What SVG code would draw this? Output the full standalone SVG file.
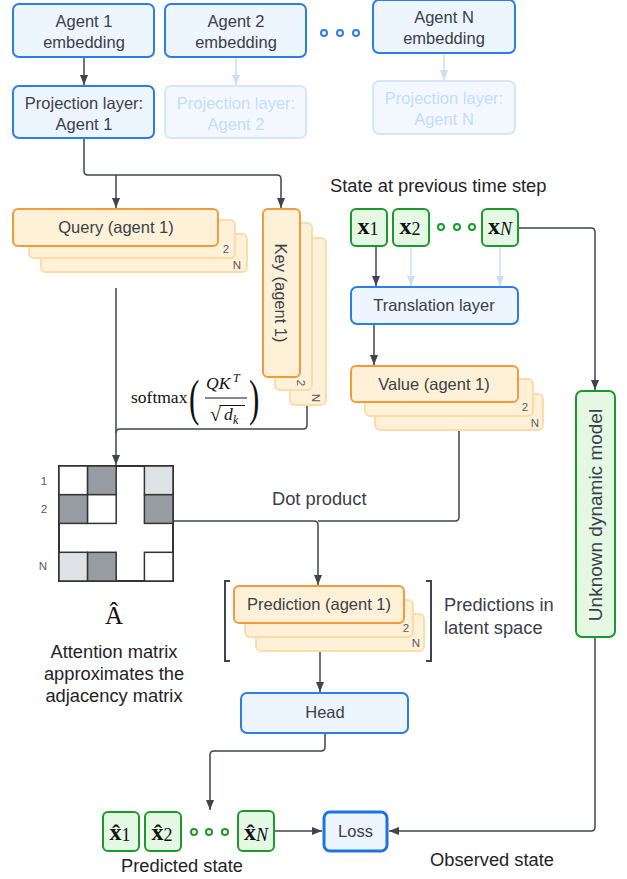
<svg xmlns="http://www.w3.org/2000/svg" width="627" height="879" viewBox="0 0 627 879">
<style>
text{font-family:"Liberation Sans",Arial,sans-serif;fill:#3a4049}
.t16{font-size:16.5px}
.lab{font-size:18.3px;fill:#1f2328}
.sm{font-size:11.5px;fill:#555b63}
.blue{fill:#edf5ff;stroke:#2b7de9;stroke-width:2}
.fade{fill:#f3f8ff;stroke:#d6e7fd;stroke-width:2}
.fadet{fill:#c6dcfa}
.org{fill:#fff1d8;stroke:#f59a3c;stroke-width:2}
.orgb{fill:#fff1d8;stroke:#fddcaa;stroke-width:2}
.grn{fill:#e4f8e4;stroke:#1a9a2a;stroke-width:2}
.con{fill:none;stroke:#3f454e;stroke-width:1.5}
.conf{fill:none;stroke:#c9defc;stroke-width:1.5}
.math{font-family:"Liberation Serif","Times New Roman",serif;fill:#111}
.dotb{fill:#fff;stroke:#2b7de9;stroke-width:2}
.dotg{fill:#fff;stroke:#1a9a2a;stroke-width:2}
.cell{stroke:#333;stroke-width:1.5}
</style>
<defs>
<marker id="ah" markerUnits="userSpaceOnUse" markerWidth="10" markerHeight="10" refX="10" refY="5" orient="auto"><path d="M0,1 L10,5 L0,9 z" fill="#3f454e"/></marker>
<marker id="ahf" markerUnits="userSpaceOnUse" markerWidth="10" markerHeight="10" refX="10" refY="5" orient="auto"><path d="M0,1 L10,5 L0,9 z" fill="#c9defc"/></marker>
</defs>

<g id="connectors">
<path class="con" d="M84 57 V85" marker-end="url(#ah)"/>
<path class="conf" d="M236 57 V85" marker-end="url(#ahf)"/>
<path class="conf" d="M444 53 V80" marker-end="url(#ahf)"/>
<path class="con" d="M84 138 V171 Q84 175 88 175 H277 Q281 175 281 179 V208" marker-end="url(#ah)"/>
<path class="con" d="M116 175 V208" marker-end="url(#ah)"/>
<path class="con" d="M116 288 V465" marker-end="url(#ah)"/>
<path class="con" d="M307 405 V425 Q307 429 303 429 H120 Q116 429 116 433"/>
<path class="con" d="M173 521 H314 Q318 521 318 525 V585" marker-end="url(#ah)"/>
<path class="con" d="M459 431 V517 Q459 521 455 521 H318"/>
<path class="con" d="M376 246 V286" marker-end="url(#ah)"/>
<path class="conf" d="M411 246 V286" marker-end="url(#ahf)"/>
<path class="conf" d="M500 246 V286" marker-end="url(#ahf)"/>
<path class="con" d="M374 324 V365" marker-end="url(#ah)"/>
<path class="con" d="M518 228 H591 Q595 228 595 232 V390" marker-end="url(#ah)"/>
<path class="con" d="M595 637 V827 Q595 831 591 831 H389" marker-end="url(#ah)"/>
<path class="con" d="M320 651 V692" marker-end="url(#ah)"/>
<path class="con" d="M325 733 V747 Q325 751 321 751 H214 Q210 751 210 755 V810" marker-end="url(#ah)"/>
<path class="con" d="M274 831 H322" marker-end="url(#ah)"/>
</g>

<g id="agent1-emb"><rect class="blue" x="13" y="4" width="141" height="53" rx="6"/><text class="t16" x="84" y="27" text-anchor="middle">Agent 1</text><text class="t16" x="84" y="48" text-anchor="middle">embedding</text></g>
<g id="agent2-emb"><rect class="blue" x="165" y="4" width="141" height="53" rx="6"/><text class="t16" x="236" y="27" text-anchor="middle">Agent 2</text><text class="t16" x="236" y="48" text-anchor="middle">embedding</text></g>
<g id="agent-dots"><circle class="dotb" cx="324" cy="33" r="3"/><circle class="dotb" cx="340" cy="33" r="3"/><circle class="dotb" cx="356" cy="33" r="3"/></g>
<g id="agentN-emb"><rect class="blue" x="373" y="0" width="142" height="53" rx="6"/><text class="t16" x="444" y="23" text-anchor="middle">Agent N</text><text class="t16" x="444" y="44" text-anchor="middle">embedding</text></g>

<g id="proj1"><rect class="blue" x="13" y="86" width="141" height="52" rx="6"/><text class="t16" x="84" y="109" text-anchor="middle">Projection layer:</text><text class="t16" x="84" y="130" text-anchor="middle">Agent 1</text></g>
<g id="proj2"><rect class="fade" x="165" y="86" width="141" height="52" rx="6"/><text class="t16 fadet" x="236" y="109" text-anchor="middle">Projection layer:</text><text class="t16 fadet" x="236" y="130" text-anchor="middle">Agent 2</text></g>
<g id="projN"><rect class="fade" x="373" y="81" width="142" height="53" rx="6"/><text class="t16 fadet" x="444" y="104" text-anchor="middle">Projection layer:</text><text class="t16 fadet" x="444" y="125" text-anchor="middle">Agent N</text></g>

<g id="query">
<rect class="orgb" x="41" y="234" width="206" height="38" rx="5"/>
<rect class="orgb" x="29" y="220" width="206" height="38" rx="5"/>
<rect class="org" x="13" y="209" width="205" height="37" rx="5"/>
<text class="t16" x="116" y="233" text-anchor="middle">Query (agent 1)</text>
<text class="sm" x="226" y="253" text-anchor="middle">2</text>
<text class="sm" x="237" y="269" text-anchor="middle">N</text>
</g>

<g id="key">
<rect class="orgb" x="290" y="238" width="36" height="167" rx="5"/>
<rect class="orgb" x="275" y="223" width="37" height="167" rx="5"/>
<rect class="org" x="263" y="209" width="37" height="168" rx="5"/>
<text class="t16" x="281" y="293" text-anchor="middle" dominant-baseline="central" transform="rotate(90 281 293)">Key (agent 1)</text>
<text class="sm" x="301" y="383" text-anchor="middle" dominant-baseline="central" transform="rotate(90 301 383)">2</text>
<text class="sm" x="316" y="398" text-anchor="middle" dominant-baseline="central" transform="rotate(90 316 398)">N</text>
</g>

<g id="softmax">
<text class="math" x="131" y="403" font-size="17.5">softmax</text>
<text class="math" x="0" y="0" font-size="50" transform="translate(189 415) scale(0.62 1)">(</text>
<text class="math" x="206" y="389" font-size="17.5" font-style="italic">QK</text>
<text class="math" x="233" y="382" font-size="12" font-style="italic">T</text>
<line x1="205" y1="398" x2="247" y2="398" stroke="#111" stroke-width="1.2"/>
<text class="math" x="210" y="421" font-size="20">√</text>
<line x1="219.5" y1="405.5" x2="245" y2="405.5" stroke="#111" stroke-width="1"/>
<text class="math" x="224" y="420" font-size="17.5" font-style="italic">d</text>
<text class="math" x="233" y="424" font-size="12" font-style="italic">k</text>
<text class="math" x="0" y="0" font-size="50" transform="translate(249 415) scale(0.62 1)">)</text>
</g>

<g id="state-title"><text class="lab" x="330" y="192" font-size="18.8">State at previous time step</text></g>
<g id="x1"><rect class="grn" x="351" y="209" width="36" height="37" rx="5"/><text class="math" x="368" y="234" text-anchor="middle"><tspan font-size="24" font-weight="bold">x</tspan><tspan font-size="18" dy="1">1</tspan></text></g>
<g id="x2"><rect class="grn" x="393" y="209" width="36" height="37" rx="5"/><text class="math" x="410" y="234" text-anchor="middle"><tspan font-size="24" font-weight="bold">x</tspan><tspan font-size="18" dy="1">2</tspan></text></g>
<g id="x-dots"><circle class="dotg" cx="441" cy="227" r="3"/><circle class="dotg" cx="457" cy="227" r="3"/><circle class="dotg" cx="472" cy="227" r="3"/></g>
<g id="xN"><rect class="grn" x="482" y="209" width="36" height="37" rx="5"/><text class="math" x="500" y="234" text-anchor="middle"><tspan font-size="24" font-weight="bold">x</tspan><tspan font-size="18" font-style="italic" dy="1">N</tspan></text></g>

<g id="translation"><rect class="blue" x="351" y="287" width="167" height="37" rx="6"/><text class="t16" x="434" y="311" text-anchor="middle">Translation layer</text></g>

<g id="value">
<rect class="orgb" x="375" y="394" width="168" height="36" rx="5"/>
<rect class="orgb" x="365" y="379" width="168" height="37" rx="5"/>
<rect class="org" x="351" y="366" width="167" height="36" rx="5"/>
<text class="t16" x="434" y="390" text-anchor="middle">Value (agent 1)</text>
<text class="sm" x="525" y="411" text-anchor="middle">2</text>
<text class="sm" x="535" y="427" text-anchor="middle">N</text>
</g>

<g id="unknown-model"><rect class="grn" x="576" y="391" width="39" height="246" rx="6"/><text x="595" y="515" font-size="19" text-anchor="middle" dominant-baseline="central" transform="rotate(-90 595 515)">Unknown dynamic model</text></g>

<g id="matrix">
<rect x="59" y="466" width="114" height="115" fill="#fff" stroke="#333" stroke-width="2"/>
<rect class="cell" x="59" y="466" width="28.6" height="28.7" fill="#fff"/>
<rect class="cell" x="87.6" y="466" width="28.6" height="28.7" fill="#979ca3"/>
<rect class="cell" x="144.4" y="466" width="28.6" height="28.7" fill="#dee1e5"/>
<rect class="cell" x="59" y="494.7" width="28.6" height="28.7" fill="#979ca3"/>
<rect class="cell" x="87.6" y="494.7" width="28.6" height="28.7" fill="#fff"/>
<rect class="cell" x="144.4" y="494.7" width="28.6" height="28.7" fill="#979ca3"/>
<rect class="cell" x="59" y="552.3" width="28.6" height="28.7" fill="#dee1e5"/>
<rect class="cell" x="87.6" y="552.3" width="28.6" height="28.7" fill="#979ca3"/>
<rect class="cell" x="144.4" y="552.3" width="28.6" height="28.7" fill="#fff"/>
<text class="sm" x="44" y="485" text-anchor="middle">1</text>
<text class="sm" x="44" y="513" text-anchor="middle">2</text>
<text class="sm" x="43" y="570" text-anchor="middle">N</text>
</g>
<g id="ahat"><text class="math" x="114" y="624" font-size="25" text-anchor="middle">Â</text></g>
<g id="attention-label">
<text class="lab" x="114" y="658" text-anchor="middle">Attention matrix</text>
<text class="lab" x="114" y="680" text-anchor="middle">approximates the</text>
<text class="lab" x="114" y="702" text-anchor="middle">adjacency matrix</text>
</g>

<g id="dot-product"><text class="lab" x="272" y="505" style="fill:#3a4049">Dot product</text></g>

<g id="prediction">
<path d="M230 581 H225 V661 H230" fill="none" stroke="#3f454e" stroke-width="2"/>
<path d="M426 581 H431 V661 H426" fill="none" stroke="#3f454e" stroke-width="2"/>
<rect class="orgb" x="256" y="614" width="168" height="37" rx="5"/>
<rect class="orgb" x="245" y="600" width="168" height="37" rx="5"/>
<rect class="org" x="234" y="586" width="170" height="37" rx="5"/>
<text class="t16" x="319" y="610" text-anchor="middle">Prediction (agent 1)</text>
<text class="sm" x="406" y="632" text-anchor="middle">2</text>
<text class="sm" x="416" y="647" text-anchor="middle">N</text>
</g>
<g id="pred-label"><text class="lab" x="444" y="611" style="fill:#3a4049">Predictions in</text><text class="lab" x="444" y="634" style="fill:#3a4049">latent space</text></g>

<g id="head"><rect class="blue" x="241" y="693" width="167" height="40" rx="6"/><text class="t16" x="325" y="718" text-anchor="middle">Head</text></g>

<g id="xhat1"><rect class="grn" x="103" y="812" width="36" height="39" rx="5"/><text class="math" x="120" y="840" text-anchor="middle"><tspan font-size="24" font-weight="bold">x&#770;</tspan><tspan font-size="18" dy="1">1</tspan></text></g>
<g id="xhat2"><rect class="grn" x="145" y="812" width="36" height="39" rx="5"/><text class="math" x="162" y="840" text-anchor="middle"><tspan font-size="24" font-weight="bold">x&#770;</tspan><tspan font-size="18" dy="1">2</tspan></text></g>
<g id="xhat-dots"><circle class="dotg" cx="194" cy="832" r="3"/><circle class="dotg" cx="209" cy="832" r="3"/><circle class="dotg" cx="225" cy="832" r="3"/></g>
<g id="xhatN"><rect class="grn" x="238" y="811" width="36" height="40" rx="5"/><text class="math" x="256" y="840" text-anchor="middle"><tspan font-size="24" font-weight="bold">x&#770;</tspan><tspan font-size="18" font-style="italic" dy="1">N</tspan></text></g>

<g id="loss"><rect x="324" y="812" width="63" height="39" rx="6" fill="#edf5ff" stroke="#1f73e0" stroke-width="3"/><text class="t16" x="355.5" y="837" text-anchor="middle">Loss</text></g>

<g id="predicted-label"><text class="lab" x="182" y="872" text-anchor="middle">Predicted state</text></g>
<g id="observed-label"><text class="lab" x="492" y="866" text-anchor="middle">Observed state</text></g>
</svg>
